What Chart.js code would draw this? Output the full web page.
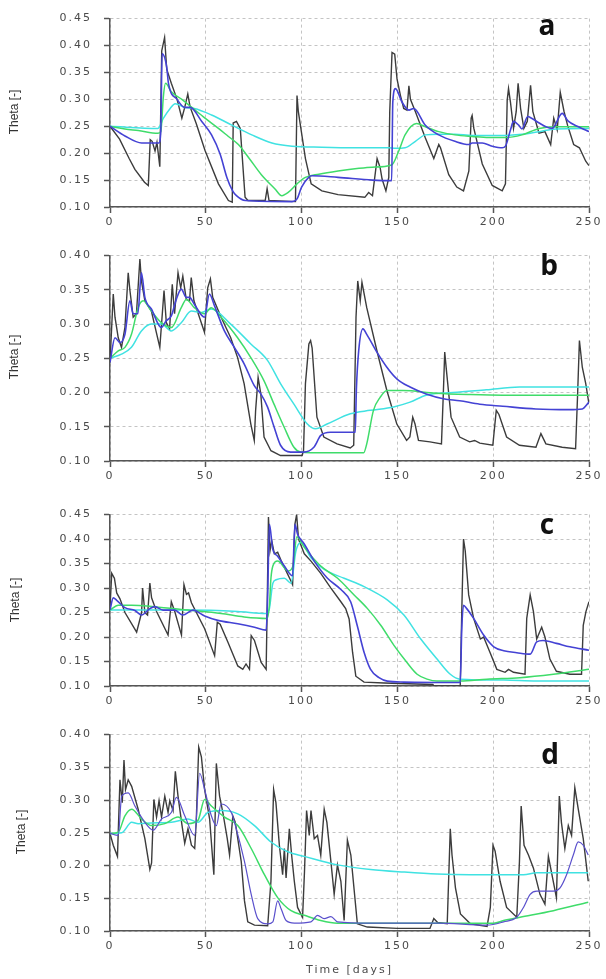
<!DOCTYPE html>
<html>
<head>
<meta charset="utf-8">
<script src="https://cdn.jsdelivr.net/npm/chart.js@4"></script>
<style>
  html, body { margin:0; padding:0; background:#fff; }
  body { width:606px; height:979px; position:relative; overflow:hidden; }
  canvas { position:absolute; left:0; }
</style>
</head>
<body>
<canvas id="ca" width="606" height="240" style="top:0px"></canvas>
<canvas id="cb" width="606" height="257" style="top:237px"></canvas>
<canvas id="cc" width="606" height="223" style="top:496px"></canvas>
<canvas id="cd" width="606" height="263" style="top:716px"></canvas>
<script>
// ---------- DATA (day, theta) ----------
const xTicks = [0, 50, 100, 150, 200, 250];
const yTicksA = [0.10, 0.15, 0.20, 0.25, 0.30, 0.35, 0.40, 0.45];
const yTicksB = [0.10, 0.15, 0.20, 0.25, 0.30, 0.35, 0.40];
const yTicksC = [0.10, 0.15, 0.20, 0.25, 0.30, 0.35, 0.40, 0.45];
const yTicksD = [0.10, 0.15, 0.20, 0.25, 0.30, 0.35, 0.40];
const panelLetters = ['a', 'b', 'c', 'd'];
const yTitle = 'Theta [-]';
const xTitle = 'Time [days]';

// Panel a
const aBlack = [[0,0.25],[5,0.226],[10,0.19],[13,0.17],[18,0.146],[20,0.14],[21,0.225],[22,0.222],[23.5,0.204],[24.5,0.22],[26,0.175],[27,0.39],[28.5,0.415],[29.6,0.356],[32,0.33],[35,0.30],[37.5,0.265],[39,0.285],[40.6,0.31],[41.8,0.286],[45,0.255],[49.6,0.205],[56.6,0.143],[61.8,0.112],[63.8,0.109],[64.3,0.256],[66,0.259],[68,0.246],[70.5,0.118],[72,0.112],[81,0.112],[82,0.134],[83,0.112],[96.8,0.11],[97.6,0.307],[98.3,0.277],[102,0.19],[105,0.143],[110.6,0.13],[119,0.123],[133,0.118],[135,0.127],[137,0.121],[139.4,0.19],[141,0.173],[142,0.152],[144,0.13],[145.5,0.155],[146,0.277],[147.2,0.387],[148.6,0.384],[149.8,0.338],[151.6,0.307],[153.3,0.283],[155,0.28],[156,0.325],[156.8,0.30],[159.4,0.277],[164.6,0.228],[169,0.19],[171.6,0.216],[172.5,0.21],[176.8,0.16],[181,0.137],[184.5,0.13],[187.3,0.167],[188.5,0.265],[189,0.27],[189.9,0.246],[194.3,0.18],[199.5,0.14],[204.7,0.13],[206.4,0.143],[207.3,0.298],[208,0.32],[209,0.295],[210.6,0.246],[212,0.277],[213,0.33],[214.3,0.283],[216,0.246],[217.8,0.259],[219.5,0.326],[220.7,0.277],[223.9,0.237],[227,0.24],[230,0.216],[231.6,0.265],[233.4,0.243],[235,0.313],[237,0.277],[238.8,0.252],[242,0.216],[245,0.21],[248.3,0.185],[250,0.177]];
const aBlue = [[0,0.25],[7.8,0.232],[16.5,0.219],[25.5,0.219],[26.5,0.24],[27.2,0.385],[29.6,0.36],[30.5,0.33],[35,0.30],[39,0.285],[41.8,0.285],[47.9,0.259],[53,0.234],[57.5,0.198],[61,0.155],[64,0.13],[66,0.121],[70.6,0.112],[95,0.11],[97.6,0.115],[100,0.137],[103.7,0.155],[105.4,0.158],[119,0.155],[137,0.15],[147,0.149],[147.6,0.295],[149,0.32],[152.4,0.295],[156,0.28],[158.5,0.283],[164.6,0.252],[171.6,0.234],[180,0.222],[187.3,0.216],[189,0.219],[194.3,0.219],[199.5,0.213],[204.7,0.21],[206.4,0.213],[209,0.243],[210.6,0.259],[213.3,0.252],[215,0.245],[218,0.268],[220,0.265],[224,0.256],[227,0.25],[230.8,0.246],[236,0.274],[239,0.26],[244.5,0.249],[250,0.24]];
const aGreen = [[0,0.25],[7.8,0.245],[14.8,0.242],[25,0.237],[26.5,0.24],[27.9,0.307],[29,0.33],[32,0.314],[37.5,0.30],[42.7,0.285],[49.6,0.265],[56.6,0.246],[61.8,0.231],[67,0.216],[72.3,0.192],[79,0.16],[86,0.134],[89.7,0.121],[93,0.127],[97.6,0.143],[102,0.155],[109,0.161],[119,0.167],[130,0.172],[137,0.174],[147,0.178],[150.7,0.204],[154,0.234],[160,0.255],[164.6,0.249],[171.6,0.24],[180,0.234],[189,0.231],[197.7,0.229],[206.4,0.229],[215,0.234],[224,0.246],[232.6,0.249],[241,0.249],[250,0.249]];
const aCyan = [[0,0.25],[25,0.246],[27.9,0.265],[31.4,0.283],[34,0.292],[39,0.285],[44,0.283],[53,0.271],[63.6,0.252],[74,0.234],[84.5,0.219],[95,0.213],[110.6,0.211],[128,0.21],[145.5,0.21],[149,0.209],[154,0.21],[159.4,0.222],[164.6,0.234],[171.6,0.235],[180,0.235],[189,0.233],[206.4,0.233],[215,0.235],[224,0.24],[232.6,0.245],[250,0.246]];

// Panel b
const bBlack = [[0,0.244],[1.7,0.344],[2.6,0.31],[4.3,0.28],[6,0.266],[7.8,0.295],[9.5,0.375],[10.4,0.349],[12.1,0.31],[13.8,0.315],[15.6,0.395],[16.4,0.363],[18.2,0.334],[21.6,0.319],[26,0.266],[28.2,0.349],[29.4,0.302],[31.1,0.293],[32.5,0.358],[33.7,0.315],[35.5,0.375],[36.9,0.353],[38,0.37],[39.8,0.336],[41.5,0.334],[42.4,0.368],[43.8,0.334],[49.3,0.288],[51,0.353],[52.4,0.366],[53.6,0.339],[58,0.31],[63,0.28],[66.6,0.251],[70,0.213],[73.5,0.154],[75.3,0.13],[76,0.174],[77.3,0.222],[78.7,0.198],[80.4,0.135],[84,0.115],[89,0.108],[100.3,0.108],[101,0.115],[102,0.213],[103.8,0.271],[104.7,0.276],[105.5,0.265],[108,0.164],[111.6,0.135],[118.5,0.125],[125.4,0.119],[127.2,0.123],[128.4,0.31],[129.3,0.363],[130.6,0.334],[131.5,0.361],[134,0.324],[139.3,0.261],[144.5,0.203],[149.7,0.154],[154.8,0.13],[156.5,0.135],[158,0.164],[159.2,0.154],[161,0.13],[167,0.128],[173,0.125],[173.9,0.193],[174.7,0.259],[175.6,0.232],[178,0.164],[182.5,0.135],[187.7,0.128],[190.3,0.13],[193,0.126],[199.8,0.123],[201.6,0.174],[203,0.168],[207,0.135],[213.7,0.123],[222.3,0.12],[224.9,0.14],[227.5,0.125],[236,0.12],[243,0.118],[244,0.193],[245,0.276],[246.5,0.237],[248.3,0.213],[250,0.183]];
const bBlue = [[0,0.244],[2.6,0.28],[5.2,0.273],[7.8,0.285],[10.4,0.334],[12.1,0.315],[14.5,0.315],[16.4,0.375],[18.2,0.339],[21.6,0.322],[26.8,0.295],[29.4,0.305],[32,0.312],[34.6,0.336],[37.2,0.351],[39.8,0.339],[41.5,0.339],[44,0.329],[49.3,0.31],[51.9,0.344],[54.5,0.327],[59.7,0.29],[64.9,0.266],[70,0.242],[75.3,0.21],[78.7,0.198],[82.2,0.179],[85.6,0.15],[89,0.123],[94.3,0.113],[101,0.113],[106.4,0.12],[109.9,0.137],[115,0.142],[128,0.142],[128.6,0.205],[129.8,0.261],[132,0.293],[134,0.285],[139.3,0.259],[144.5,0.237],[149.7,0.22],[156.6,0.208],[165,0.198],[174,0.191],[182.5,0.188],[193,0.183],[205,0.18],[222.3,0.176],[239.6,0.175],[246.5,0.176],[250,0.186]];
const bGreen = [[0,0.25],[4.3,0.261],[7.8,0.266],[11.2,0.285],[14.7,0.324],[17.3,0.334],[21.6,0.319],[26.8,0.302],[32,0.295],[37.2,0.324],[39.8,0.336],[44,0.324],[49.3,0.315],[52.8,0.324],[58,0.31],[66.6,0.28],[73.5,0.251],[80.4,0.217],[85.6,0.183],[90.8,0.15],[96,0.12],[99.5,0.113],[104.7,0.112],[132.4,0.112],[134,0.125],[137.5,0.174],[141,0.193],[144.5,0.203],[153,0.203],[170,0.199],[187.7,0.197],[205,0.196],[250,0.196]];
const bCyan = [[0,0.25],[6,0.256],[11.2,0.266],[16.4,0.29],[21.6,0.30],[26.8,0.30],[32,0.29],[37.2,0.302],[42.4,0.319],[47.6,0.317],[52.8,0.322],[63,0.30],[73.5,0.271],[82.2,0.247],[89,0.213],[96,0.183],[103,0.154],[107.3,0.147],[113.3,0.154],[125.4,0.169],[135.8,0.174],[148,0.179],[156.6,0.186],[165,0.196],[179,0.20],[196.4,0.204],[213.7,0.208],[250,0.208]];

// Panel c
const cBlack = [[0,0.26],[0.9,0.33],[2.3,0.32],[3.5,0.29],[5.2,0.278],[7.8,0.25],[13.9,0.21],[16.5,0.25],[17,0.30],[18.2,0.25],[19.6,0.245],[20.8,0.31],[21.7,0.28],[24.3,0.252],[30.3,0.204],[32,0.272],[33.8,0.252],[37.3,0.204],[38.6,0.307],[39.9,0.287],[41,0.29],[42.5,0.27],[49.4,0.217],[54.6,0.162],[56,0.23],[57.5,0.226],[61.5,0.19],[66.7,0.141],[69.3,0.134],[71,0.145],[72.8,0.134],[73.7,0.203],[75.4,0.193],[78.9,0.148],[81.5,0.134],[82,0.252],[82.7,0.445],[83.5,0.376],[84.4,0.397],[85.8,0.37],[87.5,0.373],[89.3,0.356],[91.9,0.335],[94.5,0.314],[95.3,0.307],[96.5,0.43],[97.4,0.45],[98.4,0.40],[101.4,0.37],[104.9,0.355],[110,0.33],[115.3,0.30],[120.5,0.272],[123,0.258],[124.8,0.237],[126.6,0.169],[128.3,0.12],[132.6,0.108],[143,0.106],[168.5,0.103],[169,0.10],[182.8,0.10],[183.6,0.252],[184.5,0.40],[185.4,0.376],[187.2,0.286],[189.8,0.238],[193.3,0.196],[195,0.20],[198.4,0.168],[201.9,0.134],[206.2,0.128],[208,0.134],[210.6,0.128],[216.6,0.124],[217.5,0.238],[219.3,0.286],[221,0.252],[222.7,0.196],[225.3,0.22],[227,0.20],[229.6,0.155],[233,0.13],[240,0.124],[246.1,0.124],[247,0.224],[248.4,0.252],[250,0.272]];
const cBlue = [[0,0.255],[1.7,0.28],[3.5,0.275],[7.8,0.26],[13,0.254],[16.5,0.245],[20.8,0.258],[23.4,0.262],[27.7,0.255],[33.8,0.255],[38,0.245],[43.3,0.255],[49.4,0.243],[56.3,0.234],[66.7,0.227],[75.4,0.22],[81.5,0.214],[82.3,0.286],[83.2,0.43],[84.9,0.38],[87.5,0.365],[91,0.345],[95.3,0.325],[96.5,0.43],[97.9,0.41],[101.4,0.39],[106.6,0.355],[113.5,0.32],[120.5,0.297],[125.6,0.272],[129,0.224],[132.6,0.169],[136,0.134],[140.4,0.117],[144.7,0.11],[153.4,0.108],[182.8,0.107],[183.6,0.217],[184.5,0.265],[186.2,0.258],[189.8,0.238],[195,0.204],[200.3,0.18],[205.5,0.172],[212.3,0.168],[219.3,0.165],[222.7,0.19],[226,0.193],[233,0.187],[240,0.18],[250,0.173]];
const cGreen = [[0,0.255],[4.3,0.265],[11.3,0.265],[23,0.262],[40.7,0.255],[58,0.248],[70,0.241],[82,0.238],[83.2,0.265],[84,0.32],[85,0.345],[87.5,0.355],[93,0.335],[95.5,0.345],[97.5,0.405],[101.4,0.383],[110,0.345],[118.8,0.32],[127.4,0.286],[134.4,0.258],[141.3,0.224],[148.2,0.183],[155,0.148],[160.3,0.124],[165.5,0.114],[170.7,0.11],[182.8,0.11],[196.7,0.114],[214,0.117],[231.4,0.124],[250,0.134]];
const cCyan = [[0,0.255],[14.7,0.255],[40.7,0.255],[66.7,0.252],[81.5,0.248],[83.2,0.258],[85,0.31],[86.7,0.317],[91,0.32],[94.5,0.31],[97,0.375],[99.6,0.393],[104.9,0.362],[111.8,0.338],[122.2,0.32],[132.6,0.303],[144.7,0.276],[153.4,0.245],[162,0.197],[170.7,0.155],[177.6,0.124],[182.8,0.114],[205.5,0.112],[222.7,0.11],[250,0.11]];

// Panel d
const dBlack = [[0,0.249],[1.7,0.231],[3.9,0.214],[5.2,0.331],[6.4,0.296],[7.3,0.361],[8.1,0.316],[9.5,0.331],[11.3,0.321],[14.7,0.286],[18.2,0.241],[20.8,0.194],[21.7,0.204],[22.9,0.301],[24.3,0.274],[25.6,0.299],[26.9,0.274],[28.6,0.306],[30.3,0.281],[31.2,0.299],[32.9,0.284],[34.1,0.344],[35.5,0.306],[37.6,0.261],[39,0.234],[40.7,0.256],[42.5,0.231],[44.2,0.226],[45,0.266],[46.3,0.381],[47.7,0.366],[49.4,0.316],[52,0.271],[54.2,0.186],[55.5,0.356],[57.2,0.306],[58.9,0.281],[61.2,0.241],[62.4,0.216],[64.1,0.276],[65.4,0.266],[68.5,0.206],[70.2,0.146],[71.9,0.114],[75.4,0.109],[82.3,0.108],[84,0.176],[85.4,0.316],[86.6,0.296],[88.4,0.231],[90.1,0.186],[91,0.226],[91.9,0.181],[93.6,0.256],[94.8,0.216],[96.2,0.176],[97.9,0.136],[100.5,0.121],[101.5,0.19],[102.6,0.284],[104,0.246],[104.9,0.284],[106.6,0.241],[108.3,0.246],[110,0.216],[111.8,0.286],[113.2,0.266],[115.3,0.206],[117,0.156],[118.7,0.201],[120.5,0.176],[122.2,0.116],[123.9,0.239],[125.7,0.216],[129.1,0.111],[134.3,0.106],[150,0.104],[167,0.104],[169,0.119],[171,0.113],[176,0.111],[177.6,0.256],[178.5,0.216],[180.3,0.166],[182.9,0.126],[188.1,0.111],[196.8,0.107],[198.5,0.136],[199.9,0.231],[201,0.222],[203.6,0.176],[207,0.136],[212.3,0.121],[213.7,0.206],[214.6,0.291],[216.1,0.231],[218.4,0.216],[221,0.196],[224.4,0.156],[227,0.141],[228.8,0.214],[230,0.196],[233,0.151],[234.5,0.306],[235.6,0.266],[237.4,0.226],[239.2,0.261],[240.9,0.246],[242.6,0.319],[244.4,0.286],[247,0.241],[249.6,0.176]];
const dBlue = [[0,0.249],[4.3,0.246],[6.1,0.306],[9.5,0.311],[13,0.291],[18.2,0.266],[22.5,0.254],[26.9,0.271],[32,0.281],[34.7,0.304],[39,0.276],[44.2,0.246],[46.8,0.341],[49.4,0.316],[52.9,0.276],[55.5,0.261],[58,0.294],[63.3,0.281],[65.9,0.256],[70.2,0.206],[73.7,0.156],[77.1,0.119],[82.3,0.111],[85,0.114],[87.5,0.146],[89.3,0.134],[91.9,0.116],[96.2,0.112],[104.9,0.114],[108.3,0.124],[111.8,0.119],[115.3,0.122],[118.7,0.114],[136,0.112],[170.7,0.112],[196.8,0.109],[205.4,0.114],[212.3,0.121],[215.8,0.136],[219.3,0.156],[222.8,0.161],[231.4,0.161],[234.9,0.166],[238.3,0.186],[241.8,0.216],[244.4,0.236],[247,0.231],[249.6,0.216]];
const dGreen = [[0,0.249],[4.3,0.251],[7.8,0.276],[11.3,0.286],[16.5,0.271],[21.7,0.261],[28.6,0.264],[35.5,0.274],[40.7,0.264],[45.9,0.269],[49.4,0.301],[52.9,0.291],[59.8,0.274],[66.7,0.261],[73.7,0.226],[80.6,0.186],[87.5,0.151],[94.5,0.131],[101.4,0.124],[110,0.116],[118.7,0.112],[200.2,0.112],[205.4,0.116],[214,0.121],[231.4,0.131],[249.6,0.144]];
const dCyan = [[0,0.249],[6.1,0.25],[11.3,0.266],[14.7,0.264],[21.7,0.265],[32,0.266],[40.7,0.271],[45.9,0.266],[51.1,0.281],[58,0.284],[66.7,0.279],[75.4,0.261],[84,0.236],[92.8,0.221],[101.4,0.214],[118.7,0.201],[136,0.194],[153.4,0.19],[170.7,0.187],[188,0.186],[205.4,0.186],[215.8,0.186],[222.8,0.189],[240,0.189],[249.6,0.189]];

// ---------- CHARTS ----------
const COLORS = { black:'#3c3c3c', blue:'#4442d4', green:'#3fdc6a', cyan:'#40e2e2' };
const tickFont = { family:'"DejaVu Sans"', size:11 };

const overlayPlugin = {
  id: 'overlay',
  beforeDraw(chart) { chart.ctx.letterSpacing = '2px'; },
  afterDraw(chart, args, o) {
    const ctx = chart.ctx;
    ctx.save();
    ctx.letterSpacing = '0px';
    ctx.fillStyle = '#111';
    ctx.font = 'bold 28px "Open Sans"';
    ctx.textAlign = 'center';
    ctx.textBaseline = 'alphabetic';
    ctx.fillText(o.letter, o.lx, o.ly);
    ctx.restore();
    ctx.save();
    ctx.letterSpacing = '0px';
    ctx.fillStyle = '#333';
    ctx.translate(o.tx, o.ty);
    ctx.rotate(-Math.PI / 2);
    ctx.font = '12px "Liberation Sans"';
    ctx.textAlign = 'center';
    ctx.textBaseline = 'middle';
    ctx.fillText(yTitle, 0, 0);
    ctx.restore();
  }
};

function makeChart(id, series, yTicks, geo, thinBlue) {
  const ds = (label, data, color, width, smooth) => ({
    label, data, borderColor: color, borderWidth: width, pointRadius: 0,
    fill: false, tension: 0, cubicInterpolationMode: smooth ? 'monotone' : 'default'
  });
  new Chart(document.getElementById(id), {
    type: 'line',
    data: {
      datasets: [
        ds('blue', series[1], thinBlue ? '#5a50cc' : COLORS.blue, thinBlue ? 1.2 : 1.6, true),
        ds('green', series[2], COLORS.green, 1.5, true),
        ds('cyan', series[3], COLORS.cyan, 1.5, true),
        ds('black', series[0], COLORS.black, 1.4, false)
      ]
    },
    options: {
      responsive: false,
      devicePixelRatio: 1,
      animation: false,
      layout: { padding: { top: geo.padTop, right: 17, left: 0, bottom: 0 } },
      plugins: {
        legend: { display: false },
        tooltip: { enabled: false },
        overlay: geo.overlay
      },
      scales: {
        x: {
          type: 'linear',
          min: xTicks[0], max: xTicks[xTicks.length - 1],
          afterBuildTicks: s => { s.ticks = xTicks.map(v => ({ value: v })); },
          afterFit: s => { s.height = geo.xh; },
          ticks: { font: tickFont, color: '#4a4a4a', padding: 3, maxRotation: 0, autoSkip: false },
          grid: { color: '#c4c4c4', lineWidth: 1, tickLength: 6, tickColor: '#555', tickWidth: 1.5 },
          border: { display: true, color: '#555', width: 1.5, dash: [3, 3] },
          title: geo.xTitle ? { display: true, text: xTitle, font: { family:'"DejaVu Sans"', size: 11 }, color: '#4a4a4a', padding: { top: 0, bottom: 2 } } : { display: false }
        },
        y: {
          type: 'linear',
          min: yTicks[0], max: yTicks[yTicks.length - 1],
          afterBuildTicks: s => { s.ticks = yTicks.map(v => ({ value: v })); },
          afterFit: s => { s.width = 110; },
          ticks: { font: tickFont, color: '#4a4a4a', padding: 12, callback: v => v.toFixed(2) },
          grid: { color: '#c4c4c4', lineWidth: 1, tickLength: 6, tickColor: '#555', tickWidth: 1.5 },
          border: { display: true, color: '#555', width: 1.5, dash: [3, 3] }
        }
      }
    },
    plugins: [overlayPlugin]
  });
}

makeChart('ca', [aBlack, aBlue, aGreen, aCyan], yTicksA,
  { padTop: 16, xh: 33, overlay: { letter: panelLetters[0], lx: 547, ly: 35, tx: 15, ty: 112 } });
makeChart('cb', [bBlack, bBlue, bGreen, bCyan], yTicksB,
  { padTop: 16, xh: 33, overlay: { letter: panelLetters[1], lx: 549, ly: 275 - 237, tx: 15, ty: 357 - 237 } });
makeChart('cc', [cBlack, cBlue, cGreen, cCyan], yTicksC,
  { padTop: 16, xh: 33, overlay: { letter: panelLetters[2], lx: 547, ly: 534 - 496, tx: 16, ty: 600 - 496 } });
makeChart('cd', [dBlack, dBlue, dGreen, dCyan], yTicksD,
  { padTop: 16, xh: 48, xTitle: true, overlay: { letter: panelLetters[3], lx: 550, ly: 764 - 716, tx: 22, ty: 832 - 716 } }, true);
</script>
</body>
</html>
